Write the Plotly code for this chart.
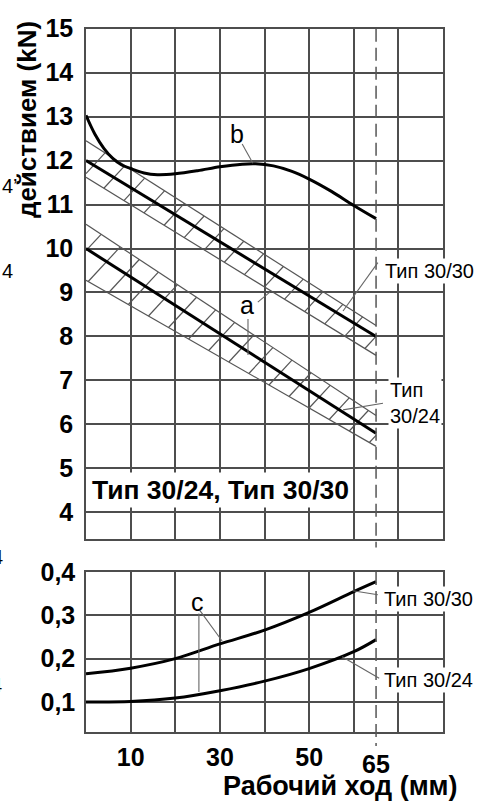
import numpy as np
import plotly.graph_objects as go

# ---------------- data ----------------
stroke_lin = [0, 65]
line_3030 = [12.0, 8.0]
band_3030_hi = [12.45, 8.25]
band_3030_lo = [11.62, 7.57]
line_3024 = [10.0, 5.8]
band_3024_hi = [10.55, 6.2]
band_3024_lo = [9.28, 5.5]

stroke_b = [0, 2, 4, 6, 8, 10, 13, 16, 20, 25, 30, 35, 38, 42, 46, 50, 55, 60, 65]
force_b = [13.03, 12.6, 12.28, 12.05, 11.9, 11.82, 11.72, 11.68, 11.7, 11.77, 11.86, 11.92, 11.93, 11.88, 11.76, 11.58, 11.3, 10.98, 10.68]

stroke_c = [0, 10, 20, 30, 40, 50, 60, 65]
c_3030 = [0.165, 0.178, 0.200, 0.234, 0.266, 0.307, 0.355, 0.378]
c_3024 = [0.100, 0.101, 0.109, 0.126, 0.148, 0.177, 0.216, 0.244]

x_grid = [10, 20, 30, 40, 50, 60, 70]
x_ticktext = ["10", "", "30", "", "50", "", ""]
y_top_ticks = [4, 5, 6, 7, 8, 9, 10, 11, 12, 13, 14, 15]
y_bot_ticks = [0.1, 0.2, 0.3, 0.4]
y_bot_text = ["0,1", "0,2", "0,3", "0,4"]
stroke_limit = 65

# ---------------- style ----------------
W, H = 477, 802
GRID = "#4d4d4d"
GREY = "#555555"
FONT = "Liberation Sans, Arial, sans-serif"
X_RANGE = [0, 80]
Y_TOP_RANGE = [3.4, 15]
Y_BOT_RANGE = [0.03, 0.4]
PLOT_L, PLOT_R = 86, 443
TOP_T, TOP_B = 15, 534
BOT_T, BOT_B = 568, 731

def px_x(p):
    return p / W

def px_y(p):
    return 1 - p / H

# pixel scale of the upper plot (used to orient the hatch rungs)
SX = (PLOT_R - PLOT_L) / (X_RANGE[1] - X_RANGE[0])
SY = (TOP_B - TOP_T) / (Y_TOP_RANGE[1] - Y_TOP_RANGE[0])

fig = go.Figure()

def hatch(xs, lo, hi, step=4.5, phase=-1.0, rise=1.1):
    x0, x1 = xs
    lo_s = (lo[1] - lo[0]) / (x1 - x0)
    hi_s = (hi[1] - hi[0]) / (x1 - x0)
    lo_f = lambda x: lo[0] + lo_s * (x - x0)
    hi_f = lambda x: hi[0] + hi_s * (x - x0)
    hx, hy = [], []
    for xa in np.arange(x0 + phase - 10, x1 + step, step):
        ya = lo_f(xa)
        denom = rise / SY - hi_s / SX
        t = (hi_f(xa) - ya) / denom
        xb = xa + t / SX
        yb = ya + rise * t / SY
        if xb < x0 or xa > x1:
            continue
        if xa < x0:
            f = (x0 - xa) / (xb - xa)
            xa, ya = x0, ya + f * (yb - ya)
        if xb > x1:
            f = (x1 - xa) / (xb - xa)
            xb, yb = x1, ya + f * (yb - ya)
        hx += [xa, xb, None]
        hy += [ya, yb, None]
    return hx, hy

def band(xs, lo, hi, xa, ya, phase):
    hx, hy = hatch(xs, lo, hi, phase=phase)
    fig.add_trace(go.Scatter(x=hx, y=hy, mode="lines", line=dict(color=GREY, width=1.2),
                             xaxis=xa, yaxis=ya, hoverinfo="skip"))
    fig.add_trace(go.Scatter(x=xs, y=lo, mode="lines", line=dict(color=GREY, width=1.2),
                             xaxis=xa, yaxis=ya, hoverinfo="skip"))
    fig.add_trace(go.Scatter(x=xs, y=hi, mode="lines", line=dict(color=GREY, width=1.2),
                             xaxis=xa, yaxis=ya, hoverinfo="skip"))

band(stroke_lin, band_3030_lo, band_3030_hi, "x", "y", phase=0.5)
band(stroke_lin, band_3024_lo, band_3024_hi, "x", "y", phase=1.5)

thick = dict(color="black", width=3)
fig.add_trace(go.Scatter(x=stroke_lin, y=line_3030, mode="lines", line=thick, xaxis="x", yaxis="y"))
fig.add_trace(go.Scatter(x=stroke_lin, y=line_3024, mode="lines", line=thick, xaxis="x", yaxis="y"))
fig.add_trace(go.Scatter(x=stroke_b, y=force_b, mode="lines", line=dict(color="black", width=3, shape="spline"),
                         xaxis="x", yaxis="y"))
fig.add_trace(go.Scatter(x=stroke_c, y=c_3030, mode="lines", line=dict(color="black", width=3, shape="spline"),
                         xaxis="x2", yaxis="y2"))
fig.add_trace(go.Scatter(x=stroke_c, y=c_3024, mode="lines", line=dict(color="black", width=3, shape="spline"),
                         xaxis="x2", yaxis="y2"))

tickfont = dict(family=FONT, size=25, color="black", weight="bold")
axis_common = dict(showgrid=True, gridcolor=GRID, gridwidth=1.5, zeroline=False,
                   showline=True, linecolor=GRID, linewidth=1.5, mirror=True, ticks="")

x_dom = [px_x(PLOT_L), px_x(PLOT_R)]
fig.update_layout(
    width=W, height=H, autosize=False,
    margin=dict(l=0, r=0, t=0, b=0),
    paper_bgcolor="white", plot_bgcolor="white",
    showlegend=False,
    xaxis=dict(domain=x_dom, range=X_RANGE, tickvals=x_grid, showticklabels=False,
               anchor="y", **axis_common),
    yaxis=dict(domain=[px_y(TOP_B), px_y(TOP_T)], range=Y_TOP_RANGE, tickvals=y_top_ticks,
               tickfont=tickfont, ticklabelstandoff=6, anchor="x", **axis_common),
    xaxis2=dict(domain=x_dom, range=X_RANGE, tickvals=x_grid, ticktext=x_ticktext,
                tickfont=tickfont, ticklabelstandoff=2, anchor="y2", **axis_common),
    yaxis2=dict(domain=[px_y(BOT_B), px_y(BOT_T)], range=Y_BOT_RANGE, tickvals=y_bot_ticks,
                ticktext=y_bot_text, tickfont=tickfont, ticklabelstandoff=4, anchor="x2", **axis_common),
)

# dashed stroke limit
dash = dict(color=GREY, width=1.5, dash="13px,6px")
fig.add_shape(type="line", xref="x", yref="paper", x0=stroke_limit, x1=stroke_limit,
              y0=px_y(TOP_T), y1=px_y(543), line=dash, layer="above")
fig.add_shape(type="line", xref="x2", yref="paper", x0=stroke_limit, x1=stroke_limit,
              y0=px_y(BOT_T), y1=px_y(745), line=dash, layer="above")

# leader lines
lead = dict(color="#666666", width=1.1)
leaders_top = [
    (35.0, 12.38, 37.4, 11.94),
    (38.5, 8.78, 41.2, 9.01),
    (36.3, 8.40, 36.3, 7.58),
    (65.4, 9.68, 57.6, 8.58),
    (66.55, 6.48, 57.6, 6.33),
]
for x0, y0, x1, y1 in leaders_top:
    fig.add_shape(type="line", xref="x", yref="y", x0=x0, y0=y0, x1=x1, y1=y1, line=lead, layer="above")
leaders_bot = [
    (25.5, 0.3114, 30.5, 0.2409),
    (25.3, 0.3045, 25.3, 0.1227),
    (59.8, 0.3568, 65.4, 0.3477),
    (57.4, 0.2045, 65.7, 0.1545),
]
for x0, y0, x1, y1 in leaders_bot:
    fig.add_shape(type="line", xref="x2", yref="y2", x0=x0, y0=y0, x1=x1, y1=y1, line=lead, layer="above")

reg = dict(family=FONT, size=20, color="black")
small = dict(family=FONT, size=20, color="black")
big = dict(family=FONT, size=25, color="black")

ann = []
ann.append(dict(text="b", x=33.8, y=12.61, xref="x", yref="y", showarrow=False, font=big))
ann.append(dict(text="a", x=36.1, y=8.72, xref="x", yref="y", showarrow=False, font=big))
ann.append(dict(text="Тип 30/30", x=66.6, y=9.48, xref="x", yref="y", xanchor="left", yanchor="middle",
                showarrow=False, font=reg, bgcolor="white", borderpad=1))
ann.append(dict(text="Тип<br>30/24", x=67.7, y=6.48, xref="x", yref="y", xanchor="left", yanchor="middle",
                align="left", showarrow=False, font=reg, bgcolor="white", borderpad=1))
ann.append(dict(text="c", x=24.9, y=0.331, xref="x2", yref="y2", showarrow=False, font=big))
ann.append(dict(text="Тип 30/30", x=66.3, y=0.3386, xref="x2", yref="y2", xanchor="left", yanchor="middle",
                showarrow=False, font=reg, bgcolor="white", borderpad=1))
ann.append(dict(text="Тип 30/24", x=66.3, y=0.150, xref="x2", yref="y2", xanchor="left", yanchor="middle",
                showarrow=False, font=reg, bgcolor="white", borderpad=1))
ann.append(dict(text="Тип 30/24, Тип 30/30", x=px_x(89), y=px_y(484), xref="paper", yref="paper",
                xanchor="left", yanchor="middle", showarrow=False,
                font=dict(family=FONT, size=26.5, color="black", weight="bold"),
                bgcolor="white", borderpad=2))
ann.append(dict(text="65", x=stroke_limit, y=px_y(763), xref="x2", yref="paper",
                xanchor="center", yanchor="middle", showarrow=False,
                font=dict(family=FONT, size=25, color="black", weight="bold")))
ann.append(dict(text="Рабочий ход (мм)", x=px_x(340), y=px_y(786), xref="paper", yref="paper",
                xanchor="center", yanchor="middle", showarrow=False,
                font=dict(family=FONT, size=27, color="black", weight="bold")))
ann.append(dict(text="действием (kN)", x=px_x(27), y=px_y(108), xref="paper", yref="paper",
                xanchor="center", yanchor="middle", textangle=-90, showarrow=False,
                font=dict(family=FONT, size=26, color="black", weight="bold")))
# clipped fragments at the left edge
ann.append(dict(text="4’", x=px_x(0), y=px_y(175), xref="paper", yref="paper", xanchor="left",
                yanchor="middle", showarrow=False, font=small))
ann.append(dict(text="4", x=px_x(0), y=px_y(262), xref="paper", yref="paper", xanchor="left",
                yanchor="middle", showarrow=False, font=small))
ann.append(dict(text="4", x=px_x(5), y=px_y(553), xref="paper", yref="paper", xanchor="right",
                yanchor="middle", showarrow=False, font=small))
ann.append(dict(text="4", x=px_x(4), y=px_y(683), xref="paper", yref="paper", xanchor="right",
                yanchor="middle", showarrow=False, font=small))
fig.update_layout(annotations=ann)

fig.write_html("out.html")
